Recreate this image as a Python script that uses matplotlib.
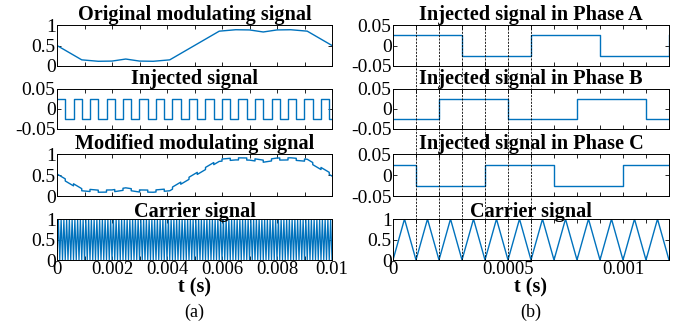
import numpy as np
import matplotlib
matplotlib.use("Agg")
import matplotlib.pyplot as plt
from matplotlib.lines import Line2D
from matplotlib.transforms import blended_transform_factory

plt.rcParams["font.family"] = ["Liberation Serif", "DejaVu Serif"]
plt.rcParams["xtick.direction"] = "in"
plt.rcParams["ytick.direction"] = "in"

BLUE = "#0072BD"

# --- original modulating signal (knots of the polyline), 0 .. 10 ms
orig_t = [0, 0.0009, 0.0015, 0.002, 0.0025, 0.003, 0.0035, 0.0041, 0.005,
          0.0059, 0.0065, 0.007, 0.0075, 0.008, 0.0085, 0.0091, 0.01]
orig_v = [0.50, 0.15, 0.115, 0.12, 0.17, 0.12, 0.115, 0.15, 0.50,
          0.85, 0.885, 0.88, 0.83, 0.88, 0.885, 0.85, 0.50]

# --- injected square wave
inj_amp = 0.025
inj_half_period = 0.0003

# --- carrier (triangle between 0 and 1)
carrier_period = 1e-4
carrier_levels = [0, 1]

# --- zoomed view (b): switching instants and starting level of each phase
t_end_b = 0.0012
phase_names = ["A", "B", "C"]
phase_edges = {
    "A": [0.0003, 0.0006, 0.0009, 0.0012],
    "B": [0.0002, 0.0005, 0.0008, 0.0011],
    "C": [0.0001, 0.0004, 0.0007, 0.0010],
}
phase_start = {"A": 1, "B": -1, "C": 1}
dash_times = [0.0001, 0.0002, 0.0003, 0.0004, 0.0005, 0.0006]


def square_steps(edges, start, t_end):
    t = [0.0] + list(edges)
    lvl = [start]
    for _ in edges:
        lvl.append(-lvl[-1])
    if t[-1] < t_end:
        t.append(t_end)
        lvl.append(lvl[-1])
    return np.array(t), inj_amp * np.array(lvl)


def triangle(t_end):
    n = int(round(t_end / (carrier_period / 2))) + 1
    t = np.arange(n) * carrier_period / 2
    v = np.where(np.arange(n) % 2 == 0, carrier_levels[0], carrier_levels[1])
    return t, v


def style(ax, xlim, ylim, yticks, yticklabels):
    ax.set_xlim(*xlim)
    ax.set_ylim(*ylim)
    ax.set_yticks(yticks)
    ax.set_yticklabels(yticklabels)
    ax.tick_params(top=True, right=True, length=3, width=0.6, labelsize=14, pad=1)
    ax.tick_params(axis="x", labelsize=13.5, pad=0.5)
    for s in ax.spines.values():
        s.set_linewidth(0.7)


fig = plt.figure(figsize=(6.88, 3.24), dpi=100)

rows = [(0.7963, 0.1265), (0.6019, 0.1235), (0.395, 0.1296), (0.1975, 0.1265)]
left_x, left_w = 57 / 688, 275 / 688
right_x, right_w = 393 / 688, 276 / 688

axL = [fig.add_axes([left_x, b, left_w, h]) for b, h in rows]
axR = [fig.add_axes([right_x, b, right_w, h]) for b, h in rows]

unit_ticks = ([0, 0.5, 1], ["0", "0.5", "1"])
inj_ticks = ([-0.05, 0, 0.05], ["-0.05", "0", "0.05"])
title_kw = dict(fontsize=14.6, fontweight="bold", pad=1.5)

# ---------------- (a) full fundamental period ----------------
t_end_a = 0.01
inj_edges_a = list(np.arange(1, int(t_end_a / inj_half_period) + 1) * inj_half_period)
t_inj, v_inj = square_steps(inj_edges_a, 1, t_end_a)

axL[0].plot(orig_t, orig_v, color=BLUE, lw=1)
axL[0].set_title("Original modulating signal", **title_kw)

axL[1].step(t_inj, v_inj, where="post", color=BLUE, lw=1)
axL[1].set_title("Injected signal", **title_kw)

# modified = original + injected, evaluated on both sides of every switching edge
t_mod = np.sort(np.concatenate([orig_t, inj_edges_a, np.array(inj_edges_a) - 1e-9]))
t_mod = t_mod[t_mod <= t_end_a]
inj_at = inj_amp * np.where((np.floor(t_mod / inj_half_period) % 2) == 0, 1, -1)
v_mod = np.interp(t_mod, orig_t, orig_v) + inj_at
axL[2].plot(t_mod, v_mod, color=BLUE, lw=1)
axL[2].set_title("Modified modulating signal", **title_kw)

t_car, v_car = triangle(t_end_a)
axL[3].plot(t_car, v_car, color=BLUE, lw=0.9)
axL[3].set_title("Carrier signal", **title_kw)

for i, ax in enumerate(axL):
    if i == 1:
        style(ax, (0, t_end_a), (-0.05, 0.05), *inj_ticks)
    else:
        style(ax, (0, t_end_a), (0, 1), *unit_ticks)
    xt = np.arange(0, 11) * 0.001
    ax.set_xticks(xt)
    if i == 3:
        ax.set_xticklabels(["0" if k == 0 else (f"{x:g}" if k % 2 == 0 else "")
                            for k, x in enumerate(xt)])
    else:
        ax.set_xticklabels([])

# ---------------- (b) zoom on the first switching periods ----------------
for i, name in enumerate(phase_names):
    t_p, v_p = square_steps(phase_edges[name], phase_start[name], t_end_b)
    axR[i].step(t_p, v_p, where="post", color=BLUE, lw=1)
    axR[i].set_title(f"Injected signal in Phase {name}", **title_kw)
    style(axR[i], (0, t_end_b), (-0.05, 0.05), *inj_ticks)

t_car_b, v_car_b = triangle(t_end_b)
axR[3].plot(t_car_b, v_car_b, color=BLUE, lw=1)
axR[3].set_title("Carrier signal", **title_kw)
style(axR[3], (0, t_end_b), (0, 1), *unit_ticks)

xt_b = np.arange(0, 13) * 0.0001
for i, ax in enumerate(axR):
    ax.set_xticks(xt_b)
    if i == 3:
        lab = {0: "0", 5: "0.0005", 10: "0.001"}
        ax.set_xticklabels([lab.get(k, "") for k in range(len(xt_b))])
    else:
        ax.set_xticklabels([])

# dashed guides through all four panels of (b)
trans = blended_transform_factory(axR[0].transData, fig.transFigure)
y_top = rows[0][0] + rows[0][1]
y_bot = rows[3][0]
for x in dash_times:
    fig.add_artist(Line2D([x, x], [y_bot, y_top], transform=trans, color="black",
                          lw=0.6, ls=(0, (2.5, 1.5)), zorder=5))

# axis labels and captions
fig.text(left_x + left_w / 2, 1 - 287 / 324, "t (s)", ha="center", va="center",
         fontsize=14.5, fontweight="bold")
fig.text(right_x + right_w / 2, 1 - 287 / 324, "t (s)", ha="center", va="center",
         fontsize=14.5, fontweight="bold")
fig.text(left_x + left_w / 2, 1 - 312 / 324, "(a)", ha="center", va="center", fontsize=13)
fig.text(right_x + right_w / 2, 1 - 312 / 324, "(b)", ha="center", va="center", fontsize=13)

fig.savefig("out.png", dpi=100)
